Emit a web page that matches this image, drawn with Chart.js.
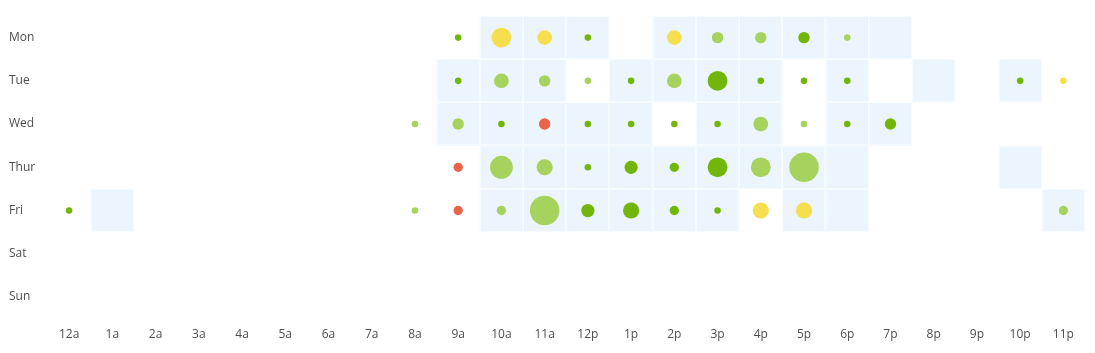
<!DOCTYPE html>
<html>
<head>
<meta charset="utf-8">
<script src="https://cdn.jsdelivr.net/npm/chart.js@4/dist/chart.umd.min.js"></script>
<style>
html,body{margin:0;padding:0;background:#fff;}
#wrap{width:1095px;height:353px;position:relative;}
</style>
</head>
<body>
<div id="wrap"><canvas id="c" width="1095" height="353"></canvas></div>
<script>
const days = ['Mon','Tue','Wed','Thur','Fri','Sat','Sun'];
const hours = ['12a','1a','2a','3a','4a','5a','6a','7a','8a','9a','10a','11a','12p','1p','2p','3p','4p','5p','6p','7p','8p','9p','10p','11p'];

// activity counts per day (24 hours), 0 = no bubble
const countMon  = [0,0,0,0,0,0,0,0,0,1,9,5,1,0,5,3,3,3,1,0,0,0,0,0];
const countTue  = [0,0,0,0,0,0,0,0,0,1,5,3,1,1,5,9,1,1,1,0,0,0,1,1];
const countWed  = [0,0,0,0,0,0,0,0,1,3,1,3,1,1,1,1,5,1,1,3,0,0,0,0];
const countThur = [0,0,0,0,0,0,0,0,0,2,12,6,1,4,2,9,9,20,0,0,0,0,0,0];
const countFri  = [1,0,0,0,0,0,0,0,1,2,2,20,4,6,2,1,6,6,0,0,0,0,0,2];
const countSat  = [0,0,0,0,0,0,0,0,0,0,0,0,0,0,0,0,0,0,0,0,0,0,0,0];
const countSun  = [0,0,0,0,0,0,0,0,0,0,0,0,0,0,0,0,0,0,0,0,0,0,0,0];

// rating grade per day: G = good, L = fair, Y = warning, R = bad
const gradeMon  = ['','','','','','','','','','G','Y','Y','G','','Y','L','L','G','L','','','','',''];
const gradeTue  = ['','','','','','','','','','G','L','L','L','G','L','G','G','G','G','','','','G','Y'];
const gradeWed  = ['','','','','','','','','L','L','G','R','G','G','G','G','L','L','G','G','','','',''];
const gradeThur = ['','','','','','','','','','R','L','L','G','G','G','G','L','L','','','','','',''];
const gradeFri  = ['G','','','','','','','','L','R','L','L','G','G','G','G','Y','Y','','','','','','L'];
const gradeSat  = ['','','','','','','','','','','','','','','','','','','','','','','',''];
const gradeSun  = ['','','','','','','','','','','','','','','','','','','','','','','',''];

// scheduled (highlighted) hours per day: 1 = highlighted cell
const slotMon  = [0,0,0,0,0,0,0,0,0,0,1,1,1,0,1,1,1,1,1,1,0,0,0,0];
const slotTue  = [0,0,0,0,0,0,0,0,0,1,1,1,0,1,1,1,1,0,1,0,1,0,1,0];
const slotWed  = [0,0,0,0,0,0,0,0,0,1,1,1,1,1,0,1,1,0,1,1,0,0,0,0];
const slotThur = [0,0,0,0,0,0,0,0,0,0,1,1,1,1,1,1,1,1,1,0,0,0,1,0];
const slotFri  = [0,1,0,0,0,0,0,0,0,0,1,1,1,1,1,1,0,1,1,0,0,0,0,1];
const slotSat  = [0,0,0,0,0,0,0,0,0,0,0,0,0,0,0,0,0,0,0,0,0,0,0,0];
const slotSun  = [0,0,0,0,0,0,0,0,0,0,0,0,0,0,0,0,0,0,0,0,0,0,0,0];

const counts = [countMon,countTue,countWed,countThur,countFri,countSat,countSun];
const grades = [gradeMon,gradeTue,gradeWed,gradeThur,gradeFri,gradeSat,gradeSun];
const slots  = [slotMon,slotTue,slotWed,slotThur,slotFri,slotSat,slotSun];

const gradeColor = {G:'#72b60c', L:'#a6d35d', Y:'#f6df4e', R:'#e8634a'};
const cellColor = '#ecf5fe';

const points = [], colors = [];
counts.forEach((row, d) => row.forEach((v, h) => {
  if (v > 0) {
    points.push({x: h, y: d, r: 3.3 * Math.sqrt(v)});
    colors.push(gradeColor[grades[d][h]]);
  }
}));

const cellPlugin = {
  id: 'cells',
  beforeDatasetsDraw(chart) {
    const {ctx, scales:{x, y}} = chart;
    ctx.save();
    slots.forEach((row, d) => row.forEach((on, h) => {
      if (!on) return;
      const x0 = x.getPixelForValue(h - 0.5), x1 = x.getPixelForValue(h + 0.5);
      const y0 = y.getPixelForValue(d - 0.5), y1 = y.getPixelForValue(d + 0.5);
      ctx.fillStyle = cellColor;
      ctx.fillRect(x0, y0, x1 - x0, y1 - y0);
      ctx.strokeStyle = 'rgba(255,255,255,0.55)';
      ctx.lineWidth = 1;
      ctx.strokeRect(Math.round(x0) + 0.5, Math.round(y0) + 0.5, Math.round(x1 - x0) - 1, Math.round(y1 - y0) - 1);
    }));
    ctx.restore();
  }
};

const zeroPad = s => { s.paddingTop = 0; s.paddingBottom = 0; s.paddingLeft = 0; s.paddingRight = 0; };

new Chart(document.getElementById('c'), {
  type: 'bubble',
  data: {
    datasets: [{
      data: points,
      backgroundColor: colors,
      borderWidth: 0,
      hoverBorderWidth: 0,
      clip: false
    }]
  },
  options: {
    responsive: false,
    animation: false,
    events: [],
    layout: {autoPadding: false, padding: {left: 9, right: 10, top: 16, bottom: 0}},
    plugins: {legend: {display: false}, tooltip: {enabled: false}},
    scales: {
      x: {
        type: 'linear', min: -0.5, max: 23.5,
        grid: {display: false, drawTicks: false}, border: {display: false},
        afterBuildTicks: s => { s.ticks = hours.map((_, i) => ({value: i})); },
        afterFit: s => { s.height = 34.4; zeroPad(s); },
        ticks: {
          autoSkip: false, maxRotation: 0, padding: 9,
          color: '#4e4e4e', font: {family: 'Open Sans', size: 12},
          callback: v => hours[v]
        }
      },
      y: {
        type: 'linear', min: -0.5, max: 6.5, reverse: true,
        grid: {display: false, drawTicks: false}, border: {display: false},
        afterBuildTicks: s => { s.ticks = days.map((_, i) => ({value: i})); },
        afterFit: s => { s.width = 38.5; zeroPad(s); },
        ticks: {
          autoSkip: false, crossAlign: 'far',
          color: '#4e4e4e', font: {family: 'Open Sans', size: 12},
          callback: v => days[v]
        }
      }
    }
  },
  plugins: [cellPlugin]
});
</script>
</body>
</html>
